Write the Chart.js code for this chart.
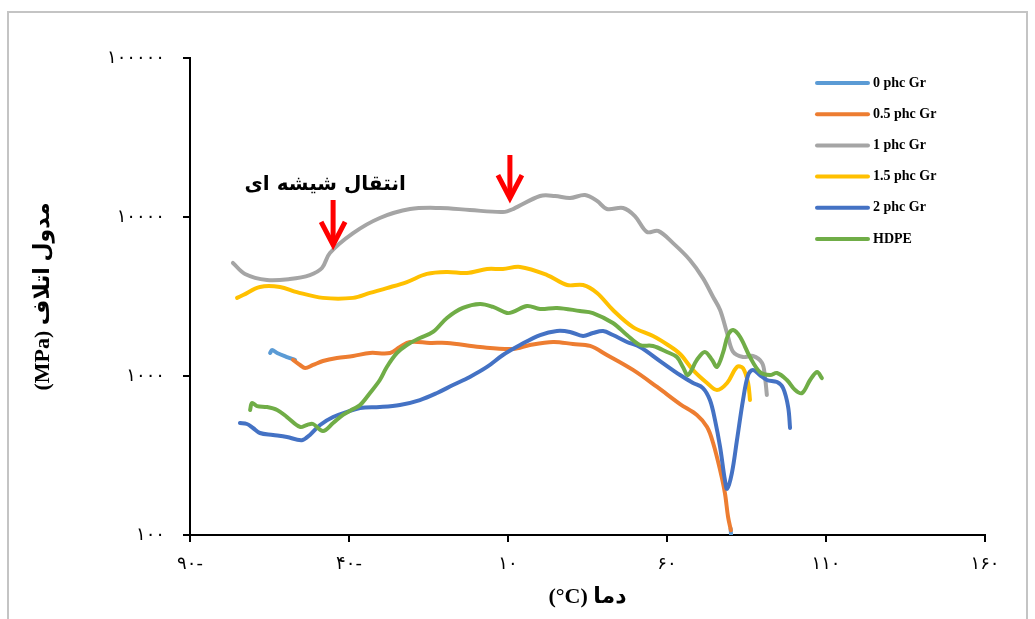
<!DOCTYPE html>
<html>
<head>
<meta charset="utf-8">
<script src="https://cdn.jsdelivr.net/npm/chart.js@4"></script>
<style>
  html, body { margin: 0; padding: 0; background: #fff; }
  #wrap { width: 1035px; height: 619px; position: relative; }
</style>
</head>
<body>
<div id="wrap"><canvas id="dma-chart" width="1035" height="619"></canvas></div>
<script>
// tick values and their labels (Persian digits, as printed in the source figure)
const xTicks = [-90, -40, 10, 60, 110, 160];
const xTickLabels = ['۹۰-', '۴۰-', '۱۰', '۶۰', '۱۱۰', '۱۶۰'];
const yTicks = [100, 1000, 10000, 100000];
const yTickLabels = ['۱۰۰', '۱۰۰۰', '۱۰۰۰۰', '۱۰۰۰۰۰'];

const seriesNames = ['0 phc Gr', '0.5 phc Gr', '1 phc Gr', '1.5 phc Gr', '2 phc Gr', 'HDPE'];
const seriesColors = ['#5B9BD5', '#ED7D31', '#A5A5A5', '#FFC000', '#4472C4', '#70AD47'];

// [temperature °C, loss modulus MPa]
const gr0 = [[-64.8, 1396], [-64.2, 1459], [-62.6, 1396], [-59.5, 1316], [-57.0, 1262],
  [null, null], [80.0, 110], [80.4, 85]];
const gr05 = [[-57.6, 1262], [-55.4, 1173], [-53.8, 1122], [-51.3, 1173], [-48.2, 1242], [-43.8, 1297],
  [-38.7, 1336], [-33.4, 1396], [-27.1, 1396], [-24.0, 1522], [-20.8, 1637], [-14.5, 1614], [-9.2, 1614],
  [1.2, 1522], [11.6, 1479], [16.9, 1567], [24.2, 1637], [30.4, 1589], [35.8, 1545], [41.1, 1356],
  [49.3, 1092], [56.9, 853], [64.1, 666], [69.4, 569], [72.6, 478], [74.5, 379], [76.7, 256],
  [78.2, 184], [79.2, 130], [80.1, 107]];
const gr1 = [[-76.5, 5140], [-72.7, 4385], [-65.8, 4020], [-58.6, 4075], [-52.3, 4315], [-48.5, 4780],
  [-46.0, 5940], [-38.7, 7920], [-30.3, 9860], [-20.8, 11220], [-11.4, 11400], [-2.0, 11070],
  [8.4, 10750], [11.6, 11220], [20.1, 13550], [24.8, 13550], [29.5, 13150], [34.2, 13750],
  [38.0, 12620], [41.1, 11220], [46.2, 11400], [49.9, 10140], [53.7, 8050], [57.2, 8170],
  [61.9, 6850], [67.2, 5370], [71.3, 4130], [74.5, 3140], [76.7, 2600], [78.9, 1860], [80.8, 1416],
  [83.9, 1316], [87.0, 1336], [89.9, 1208], [90.8, 987], [91.4, 760]];
const gr15 = [[-75.2, 3100], [-73.3, 3230], [-68.0, 3630], [-61.7, 3630], [-56.4, 3370], [-48.2, 3100],
  [-38.7, 3100], [-33.4, 3330], [-28.1, 3570], [-21.8, 3900], [-15.5, 4385], [-9.2, 4510], [-2.9, 4445],
  [3.4, 4710], [8.4, 4710], [13.8, 4850], [22.3, 4315], [28.6, 3735], [33.6, 3735], [38.0, 3330],
  [43.0, 2600], [49.3, 2030], [55.6, 1785], [60.3, 1567], [64.1, 1375], [68.2, 1090], [72.6, 904],
  [75.7, 816], [78.9, 904], [82.0, 1140], [83.9, 1122], [85.5, 904], [86.1, 706]];
const gr2 = [[-74.3, 506], [-72.1, 499], [-70.2, 471], [-68.0, 438], [-63.9, 426], [-59.5, 413],
  [-54.8, 395], [-52.3, 426], [-49.1, 492], [-45.0, 552], [-40.6, 594], [-36.5, 630], [-30.3, 638],
  [-24.0, 657], [-17.7, 706], [-12.3, 782], [-7.3, 877], [-2.0, 987], [3.4, 1140], [8.4, 1356],
  [13.8, 1567], [20.1, 1810], [25.4, 1919], [29.5, 1893], [33.6, 1785], [36.7, 1863], [39.9, 1919],
  [43.0, 1810], [47.4, 1637], [51.5, 1522], [57.8, 1242], [64.1, 1014], [68.2, 904], [71.3, 840],
  [73.5, 706], [75.1, 528], [76.7, 357], [78.2, 222], [78.9, 195], [80.4, 245], [82.0, 395],
  [83.9, 706], [85.5, 1014], [87.0, 1092], [89.2, 1014], [91.4, 944], [94.6, 916], [96.5, 840],
  [98.1, 638], [98.7, 471]];
const hdpe = [[-71.1, 611], [-70.5, 676], [-68.9, 647], [-65.8, 638], [-62.6, 611], [-59.5, 552],
  [-55.4, 478], [-53.2, 492], [-51.3, 499], [-48.2, 451], [-45.0, 506], [-41.9, 569], [-38.7, 620],
  [-36.5, 657], [-33.4, 782], [-30.3, 944], [-28.1, 1140], [-24.9, 1396], [-21.8, 1567], [-17.7, 1734],
  [-13.6, 1893], [-9.2, 2317], [-4.2, 2680], [1.2, 2840], [5.3, 2718], [9.7, 2490], [11.6, 2530],
  [16.0, 2757], [20.1, 2637], [25.4, 2680], [32.6, 2565], [36.7, 2490], [43.0, 2153], [47.4, 1810],
  [51.5, 1567], [55.6, 1545], [60.0, 1416], [63.1, 1316], [65.0, 1140], [66.6, 1014], [69.4, 1262],
  [71.9, 1416], [74.2, 1262], [75.7, 1140], [77.6, 1396], [79.2, 1810], [80.8, 1946], [83.0, 1758],
  [86.1, 1316], [89.2, 1060], [92.4, 1014], [94.6, 1045], [97.7, 944], [100.3, 816], [102.5, 782],
  [105.0, 944], [107.2, 1060], [108.7, 970]];

const seriesData = [gr0, gr05, gr1, gr15, gr2, hdpe];

// glass transition annotation: arrows [x, tail value, tip value]
const arrows = [[-45.0, 12790, 6670], [10.6, 24550, 13150]];
const noteText = 'انتقال شیشه ای';
const notePos = [-47.5, 15890];

const datasets = seriesData.map((pts, i) => ({
  label: seriesNames[i],
  data: pts.map(p => ({x: p[0], y: p[1]})),
  borderColor: seriesColors[i],
  backgroundColor: seriesColors[i],
  borderWidth: 4,
  borderCapStyle: 'round',
  borderJoinStyle: 'round',
  pointRadius: 0,
  tension: 0.35,
  spanGaps: false,
  order: seriesData.length - i,
}));

const extras = {
  id: 'extras',
  beforeDraw(chart) {
    const c = chart.ctx;
    c.save();
    c.strokeStyle = '#c4c4c4';
    c.lineWidth = 2;
    c.strokeRect(8, 12, 1019, 620);
    c.restore();
  },
  afterDraw(chart) {
    const c = chart.ctx;
    const xs = chart.scales.x, ys = chart.scales.y;
    c.save();
    // arrows
    c.strokeStyle = '#ff0000';
    c.lineWidth = 5;
    c.lineCap = 'butt';
    arrows.forEach(a => {
      const x = xs.getPixelForValue(a[0]);
      const y0 = ys.getPixelForValue(a[1]);
      const y1 = ys.getPixelForValue(a[2]);
      c.beginPath();
      c.moveTo(x, y0);
      c.lineTo(x, y1 - 4);
      c.stroke();
      c.beginPath();
      c.moveTo(x - 12, y1 - 23);
      c.lineTo(x, y1);
      c.lineTo(x + 12, y1 - 23);
      c.stroke();
    });
    // note
    c.fillStyle = '#000';
    c.font = 'bold 20px "DejaVu Sans"';
    c.textAlign = 'center';
    c.textBaseline = 'middle';
    c.fillText(noteText, xs.getPixelForValue(notePos[0]), ys.getPixelForValue(notePos[1]));
    // legend
    c.font = 'bold 14px "Liberation Serif"';
    c.textAlign = 'left';
    chart.data.datasets.forEach((ds, i) => {
      const y = 83 + 31.2 * i;
      c.strokeStyle = ds.borderColor;
      c.lineWidth = 4;
      c.lineCap = 'round';
      c.beginPath();
      c.moveTo(817, y);
      c.lineTo(868, y);
      c.stroke();
      c.fillStyle = '#000';
      c.fillText(ds.label, 873, y);
    });
    c.restore();
  }
};

const config = {
  type: 'line',
  data: { datasets: datasets },
  options: {
    responsive: false,
    animation: false,
    layout: { padding: { left: 10, top: 58, right: 50, bottom: 0 } },
    plugins: { legend: { display: false }, tooltip: { enabled: false } },
    scales: {
      x: {
        type: 'linear',
        min: -90,
        max: 160,
        afterFit: s => { s.height = 84; },
        afterBuildTicks: s => { s.ticks = xTicks.map(v => ({value: v})); },
        ticks: {
          padding: 12,
          color: '#000',
          font: { size: 18, family: '"DejaVu Sans"' },
          callback: v => xTickLabels[xTicks.indexOf(v)],
        },
        grid: { drawOnChartArea: false, drawTicks: true, tickLength: 7, color: '#000', lineWidth: 2 },
        border: { display: true, color: '#000', width: 2 },
        title: {
          display: true,
          text: '(°C) دما',
          color: '#000',
          font: { size: 22, weight: 'bold', family: '"Liberation Serif", "DejaVu Sans"' },
          padding: { top: 0, bottom: 8 },
        },
      },
      y: {
        type: 'logarithmic',
        min: 100,
        max: 100000,
        afterFit: s => { s.width = 180; },
        afterBuildTicks: s => { s.ticks = yTicks.map(v => ({value: v})); },
        ticks: {
          padding: 18,
          color: '#000',
          font: { size: 18, family: '"DejaVu Sans"' },
          callback: v => yTickLabels[yTicks.indexOf(v)],
        },
        grid: { drawOnChartArea: false, drawTicks: true, tickLength: 7, color: '#000', lineWidth: 2 },
        border: { display: true, color: '#000', width: 2 },
        title: {
          display: true,
          text: '(MPa) مدول اتلاف',
          color: '#000',
          font: { size: 22, weight: 'bold', family: '"Liberation Serif", "DejaVu Sans"' },
          padding: { top: 20, bottom: 0 },
        },
      },
    },
  },
  plugins: [extras],
};

const ctx = document.getElementById('dma-chart');
new Chart(ctx, config);
</script>
</body>
</html>
